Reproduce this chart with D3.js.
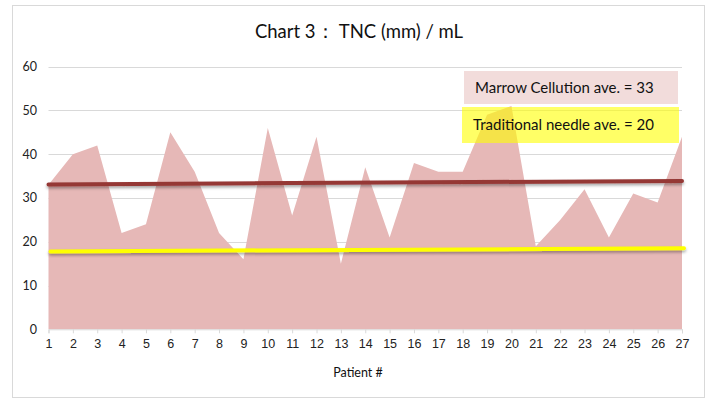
<!DOCTYPE html>
<html lang="en">
<head>
  <meta charset="UTF-8">
  <title>Chart 3 : TNC (mm) / mL</title>
  <script src="https://d3js.org/d3.v7.min.js"></script>
  <style>
    body {
      margin: 0;
      background-color: #fff;
      font-family: Lato, "Open Sans", sans-serif;
    }

    .grid line {
      stroke: #d9d9d9;
      stroke-width: 1;
    }

    .area {
      fill: #e6b8b7;
    }

    .tick-label {
      font-size: 12.5px;
      fill: #222;
    }
  </style>
</head>
<body>
  <svg id="chart"></svg>

  <script>
    const width = 711;
    const height = 401;

    // TNC per patient
    const patients = d3.range(1, 28);
    const tnc = [33, 40, 42, 22, 24, 45, 36, 22, 16, 46, 26, 44, 15, 37, 21,
                 38, 36, 36, 49, 51, 19, 25, 32, 21, 31, 29, 44];

    // average lines (start / end values at patient 1 and 27)
    const marrowAve = [33.1, 33.9];
    const needleAve = [17.8, 18.5];

    const yTicks = [0, 10, 20, 30, 40, 50, 60];
    const legendLabels = ["Marrow Cellution ave. = 33", "Traditional needle ave. = 20"];

    const svg = d3.select("#chart")
      .attr("width", width)
      .attr("height", height);

    // chart border
    svg.append("rect")
      .attr("x", 12.5).attr("y", 5.5)
      .attr("width", 692).attr("height", 392)
      .attr("fill", "#fff")
      .attr("stroke", "#d9d9d9");

    const x = d3.scalePoint().domain(patients).range([48.5, 682]);
    const y = d3.scaleLinear().domain([0, 60]).range([329.3, 66.7]);

    // drop shadow for the average lines
    const defs = svg.append("defs");
    const shadow = defs.append("filter").attr("id", "shadow")
      .attr("x", "-5%").attr("y", "-200%").attr("width", "110%").attr("height", "500%");
    shadow.append("feDropShadow")
      .attr("dx", 0).attr("dy", 2).attr("stdDeviation", 1.8)
      .attr("flood-color", "#000").attr("flood-opacity", 0.35);

    // gridlines
    svg.append("g").attr("class", "grid")
      .selectAll("line")
      .data(yTicks.slice(1))
      .enter().append("line")
      .attr("x1", x(1)).attr("x2", x(27))
      .attr("y1", d => Math.round(y(d)) + 0.5)
      .attr("y2", d => Math.round(y(d)) + 0.5);

    // area
    const area = d3.area()
      .x((d, i) => x(patients[i]))
      .y0(y(0))
      .y1(d => y(d));

    svg.append("path")
      .datum(tnc)
      .attr("class", "area")
      .attr("d", area);

    // x axis
    const xAxis = svg.append("g")
      .attr("transform", `translate(0,${y(0)})`)
      .call(d3.axisBottom(x).tickSize(4).tickPadding(6));
    xAxis.select(".domain").attr("stroke", "#d9d9d9");
    xAxis.selectAll(".tick line").attr("stroke", "#d9d9d9");
    xAxis.selectAll("text").attr("class", "tick-label").attr("font-family", null).attr("font-size", null);

    // y labels
    svg.append("g")
      .selectAll("text")
      .data(yTicks)
      .enter().append("text")
      .attr("class", "tick-label")
      .attr("x", 37)
      .attr("y", d => y(d))
      .attr("dy", "0.35em")
      .attr("text-anchor", "end")
      .text(d => d);

    // average lines
    const line = d3.line()
      .x((d, i) => x(i === 0 ? 1 : 27))
      .y(d => y(d));

    svg.append("path")
      .datum(marrowAve)
      .attr("d", line)
      .attr("fill", "none")
      .attr("stroke", "#953735")
      .attr("stroke-width", 4)
      .attr("stroke-linecap", "round")
      .attr("filter", "url(#shadow)");

    svg.append("path")
      .datum(needleAve)
      .attr("d", line)
      .attr("transform", "translate(2,0)")
      .attr("fill", "none")
      .attr("stroke", "#ffff00")
      .attr("stroke-width", 4)
      .attr("stroke-linecap", "round")
      .attr("filter", "url(#shadow)");

    // legend boxes
    svg.append("rect")
      .attr("x", 464).attr("y", 71)
      .attr("width", 214).attr("height", 33)
      .attr("fill", "#f2dcdb");

    svg.append("rect")
      .attr("x", 462).attr("y", 107)
      .attr("width", 217).attr("height", 36)
      .attr("fill", "#ffff00")
      .attr("fill-opacity", 0.6);

    svg.selectAll(".legend")
      .data(legendLabels)
      .enter().append("text")
      .attr("class", "legend")
      .attr("x", (d, i) => i === 0 ? 475 : 473)
      .attr("y", (d, i) => i === 0 ? 88 : 125)
      .attr("dy", "0.35em")
      .attr("font-size", "15px")
      .attr("fill", "#111")
      .text(d => d);

    // title
    svg.append("text")
      .attr("x", 359).attr("y", 32)
      .attr("dy", "0.35em")
      .attr("text-anchor", "middle")
      .attr("font-size", "18.5px")
      .attr("fill", "#111")
      .text("Chart 3： TNC (mm) / mL");

    // axis title
    svg.append("text")
      .attr("x", 358).attr("y", 373)
      .attr("dy", "0.35em")
      .attr("text-anchor", "middle")
      .attr("font-size", "12.5px")
      .attr("fill", "#111")
      .text("Patient #");
  </script>
</body>
</html>
